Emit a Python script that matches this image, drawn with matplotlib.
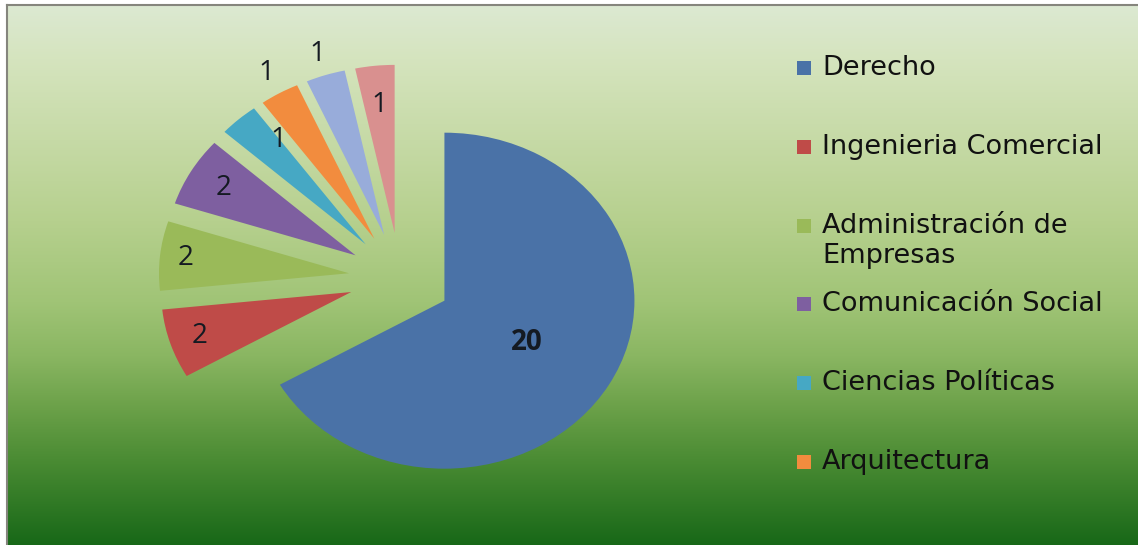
import numpy as np
import matplotlib
matplotlib.use('Agg')
import matplotlib.pyplot as plt
from matplotlib.patches import Rectangle

# data
legend_labels = ['Derecho', 'Ingenieria Comercial', 'Administración de\nEmpresas',
                 'Comunicación Social', 'Ciencias Políticas', 'Arquitectura']
values = [20, 2, 2, 2, 1, 1, 1, 1]
colors = ['#4a72a7', '#bf4b48', '#9aba59', '#7e5fa0', '#46a8c4', '#f28c3e', '#98acda', '#d9908f']

# label placement (distance from slice tip, angle tweak)
label_r = [0.50, 0.84, 0.865, 0.80, 0.77, 1.14, 1.13, 0.765]
label_dang = [0, 0, 0, 0, -5.5, 0, 0, 0]

W, H = 1138, 545
fig = plt.figure(figsize=(W / 100, H / 100), dpi=100)
fig.patch.set_facecolor('white')

# background gradient
bg = fig.add_axes([0, 0, 1, 1])
bg.set_xlim(0, W)
bg.set_ylim(H, 0)
bg.axis('off')
stop_f = [0, 0.1, 0.25, 0.4, 0.55, 0.65, 0.75, 0.85, 1.0]
stop_rgb = np.array([(220, 233, 210), (213, 228, 190), (198, 218, 166), (182, 208, 142),
                     (160, 196, 118), (138, 182, 98), (106, 160, 72), (72, 138, 50),
                     (24, 104, 24)]) / 255
t = np.linspace(0, 1, 400)
grad = np.stack([np.interp(t, stop_f, stop_rgb[:, k]) for k in range(3)], axis=-1)[:, None, :]
bg.imshow(grad, extent=[7, W, H, 5], aspect='auto', interpolation='bilinear')
bg.plot([7, W], [5, 5], color='#85857d', lw=1.5)
bg.plot([7, 7], [5, H], color='#85857d', lw=1.5)

# pie
ax = fig.add_axes([0, 0, 1, 1])
wedges, _ = ax.pie(values, colors=colors, startangle=90, counterclock=False,
                   explode=[0.27] * len(values), wedgeprops=dict(linewidth=0))
ax.set_aspect('auto')
ax.set_xlim(-400 / 190, (W - 400) / 190)
ax.set_ylim((278 - H) / 168, 278 / 168)

for i, (w, v) in enumerate(zip(wedges, values)):
    mid = np.deg2rad((w.theta1 + w.theta2) / 2 + label_dang[i])
    x = w.center[0] + label_r[i] * np.cos(mid)
    y = w.center[1] + label_r[i] * np.sin(mid)
    ax.text(x, y, str(v), ha='center', va='center', fontsize=20, family='Open Sans',
            fontweight='bold' if i == 0 else 'normal', color='#141a22')

# legend (only first entries visible, like the original)
lay = fig.add_axes([0, 0, 1, 1])
lay.set_xlim(0, W)
lay.set_ylim(H, 0)
lay.axis('off')
for i, lab in enumerate(legend_labels):
    yc = 68 + i * 78.8
    lay.add_patch(Rectangle((797, yc - 7), 14, 14, facecolor=wedges[i].get_facecolor(), lw=0))
    lay.text(822, yc - 13, lab, ha='left', va='top', fontsize=19.5, family='DejaVu Sans',
             color='#111111', linespacing=1.2)

fig.savefig('out.png', dpi=100)
